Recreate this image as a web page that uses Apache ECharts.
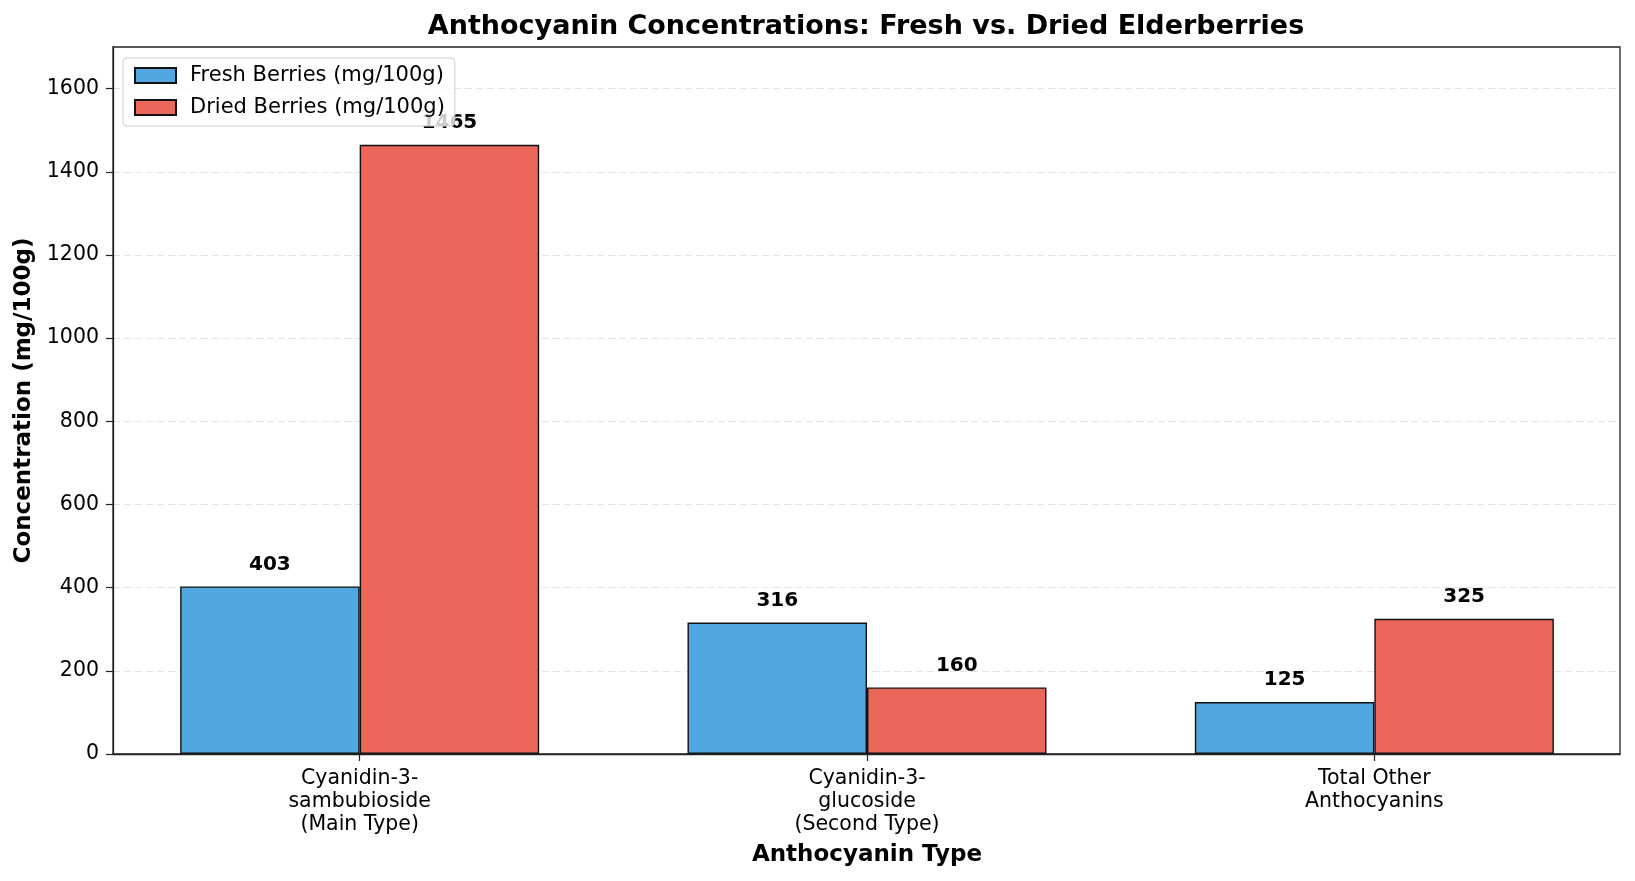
<!DOCTYPE html>
<html>
<head>
<meta charset="utf-8">
<title>Anthocyanin Concentrations</title>
<script src="https://cdn.jsdelivr.net/npm/echarts@6/dist/echarts.min.js"></script>
<style>
  html, body { margin: 0; padding: 0; background: #fff; }
  #chart { width: 1635px; height: 881px; }
</style>
</head>
<body>
<div id="chart"></div>
<script>
const categories = [
    'Cyanidin-3-\nsambubioside\n(Main Type)',
    'Cyanidin-3-\nglucoside\n(Second Type)',
    'Total Other\nAnthocyanins'
];
const freshValues = [403, 316, 125];
const driedValues = [1465, 160, 325];
const yTicks = [0, 200, 400, 600, 800, 1000, 1200, 1400, 1600];

const font = 'DejaVu Sans';

const barLabel = {
    show: true,
    position: 'top',
    distance: 12,
    color: '#000',
    fontFamily: font,
    fontWeight: 'bold',
    fontSize: 20
};

// grid 0 holds the bars (its band centres line up with the matplotlib-style x limits),
// grid 1 draws the visible frame, y axis and grid lines
const myOption = () => {
    return ({
        backgroundColor: '#fff',
        graphic: [{
            type: 'text',
            x: 866,
            y: 27,
            style: {
                text: 'Anthocyanin Concentrations: Fresh vs. Dried Elderberries',
                fontFamily: font,
                fontWeight: 'bold',
                fontSize: 27,
                fill: '#000',
                align: 'center',
                verticalAlign: 'middle'
            }
        }],
        legend: {
            left: 123,
            top: 58,
            orient: 'vertical',
            icon: 'rect',
            padding: [7, 10, 8, 11],
            itemWidth: 41,
            itemHeight: 15,
            itemGap: 11,
            backgroundColor: 'rgba(255,255,255,0.8)',
            borderColor: '#cccccc',
            borderWidth: 1,
            borderRadius: 4,
            z: 10,
            textStyle: {
                fontFamily: font,
                fontSize: 21,
                lineHeight: 20,
                color: '#000',
                padding: [0, 0, 0, 9]
            }
        },
        grid: [
            { left: 106, right: 7, top: 47, bottom: 127, show: false },
            {
                left: 113, right: 15, top: 47, bottom: 127,
                show: true,
                borderColor: '#222',
                borderWidth: 1.3,
                backgroundColor: 'transparent'
            }
        ],
        xAxis: [
            {
                type: 'category',
                gridIndex: 0,
                data: categories,
                name: 'Anthocyanin Type',
                nameLocation: 'middle',
                nameGap: 90,
                nameTextStyle: {
                    fontFamily: font,
                    fontWeight: 'bold',
                    fontSize: 23,
                    color: '#000'
                },
                axisLine: { show: false },
                axisTick: { show: true, alignWithLabel: true, length: 7, lineStyle: { color: '#222', width: 1.2 } },
                axisLabel: {
                    margin: 13,
                    fontFamily: font,
                    fontSize: 20.5,
                    lineHeight: 23,
                    color: '#000'
                }
            },
            {
                type: 'value',
                gridIndex: 1,
                min: 0,
                max: 1,
                z: 5,
                axisLine: { show: true, lineStyle: { color: '#222', width: 1.3 } },
                axisTick: { show: false },
                axisLabel: { show: false },
                splitLine: { show: false }
            }
        ],
        yAxis: [
            { type: 'value', gridIndex: 0, min: 0, max: 1700, show: false },
            {
                type: 'value',
                gridIndex: 1,
                min: 0,
                max: 1700,
                interval: 200,
                name: 'Concentration (mg/100g)',
                nameLocation: 'middle',
                nameGap: 68,
                nameTextStyle: {
                    fontFamily: font,
                    fontWeight: 'bold',
                    fontSize: 23,
                    color: '#000'
                },
                axisLine: { show: true, lineStyle: { color: '#222', width: 1.3 } },
                axisTick: {
                    show: true,
                    length: 7,
                    customValues: yTicks,
                    lineStyle: { color: '#222', width: 1.2 }
                },
                axisLabel: {
                    margin: 14,
                    customValues: yTicks,
                    formatter: (v) => String(v),
                    fontFamily: font,
                    fontSize: 20.5,
                    color: '#000'
                },
                splitLine: {
                    show: true,
                    lineStyle: { color: '#e3e3e3', type: [7, 4], width: 1 }
                }
            }
        ],
        series: [
            {
                name: 'Fresh Berries (mg/100g)',
                type: 'bar',
                xAxisIndex: 0,
                yAxisIndex: 0,
                data: freshValues,
                barWidth: 179.5,
                barGap: '0%',
                itemStyle: { color: '#52a7e0', borderColor: '#111', borderWidth: 1.4 },
                label: barLabel
            },
            {
                name: 'Dried Berries (mg/100g)',
                type: 'bar',
                xAxisIndex: 0,
                yAxisIndex: 0,
                data: driedValues,
                barWidth: 179.5,
                barGap: '0%',
                itemStyle: { color: '#ea6759', borderColor: '#111', borderWidth: 1.4 },
                label: barLabel
            }
        ]
    });
};

let myChart = echarts.init(document.getElementById('chart'));
myChart.setOption(myOption());
</script>
</body>
</html>
